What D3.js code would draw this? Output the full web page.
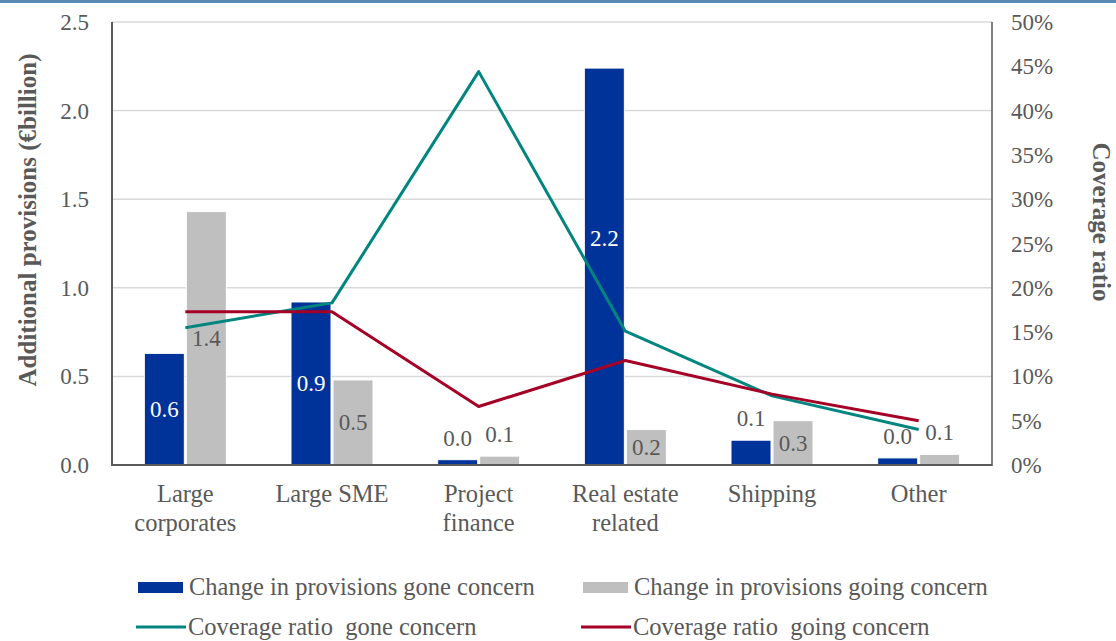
<!DOCTYPE html>
<html>
<head>
<meta charset="utf-8">
<script src="https://cdn.jsdelivr.net/npm/d3@7"></script>
<style>
  html, body { margin: 0; padding: 0; background: #fff; }
  svg { display: block; }
</style>
</head>
<body>
<svg id="chart" width="1116" height="641" font-family="'Liberation Serif', 'Times New Roman', 'DejaVu Serif', serif"></svg>
<script>
const categories = [["Large", "corporates"], ["Large SME"], ["Project", "finance"], ["Real estate", "related"], ["Shipping"], ["Other"]];
const goneConcern = [0.63, 0.92, 0.03, 2.24, 0.14, 0.04];
const goingConcern = [1.43, 0.48, 0.05, 0.20, 0.25, 0.06];
const coverageGone = [15.5, 18.3, 44.4, 15.1, 7.8, 4.0];
const coverageGoing = [17.3, 17.3, 6.6, 11.8, 8.0, 5.0];
const leftTicks = [0, 0.5, 1.0, 1.5, 2.0, 2.5];
const rightTicks = [0, 5, 10, 15, 20, 25, 30, 35, 40, 45, 50];

const svg = d3.select("#chart");
const W = 1116, H = 641;
const m = { left: 112, right: 992, top: 22, bottom: 465 };
const textColor = "#595959";
const FS = 23;
const FS_CAT = 24.5;
const FS_TITLE = 25;

// top band
svg.append("rect").attr("x", 0).attr("y", 0).attr("width", W).attr("height", 3).attr("fill", "#5b8bb5");

const x = d3.scaleBand().domain(d3.range(categories.length)).range([m.left, m.right]);
const yL = d3.scaleLinear().domain([0, 2.5]).range([m.bottom, m.top]);
const yR = d3.scaleLinear().domain([0, 50]).range([m.bottom, m.top]);
const barW = 40;

// gridlines
svg.append("g").selectAll("line").data(leftTicks.filter(d => d > 0)).join("line")
  .attr("x1", m.left).attr("x2", m.right)
  .attr("y1", d => yL(d)).attr("y2", d => yL(d))
  .attr("stroke", "#d9d9d9").attr("stroke-width", 1.5);

// bars
const cx = i => x(i) + x.bandwidth() / 2;
const gBars = svg.append("g");
gBars.selectAll("rect.gone").data(goneConcern).join("rect")
  .attr("x", (d, i) => cx(i) - barW - 1).attr("width", barW)
  .attr("y", d => yL(d)).attr("height", d => yL(0) - yL(d))
  .attr("fill", "#003399").attr("stroke", "#ffffff").attr("stroke-width", 1);
gBars.selectAll("rect.going").data(goingConcern).join("rect")
  .attr("x", (d, i) => cx(i) + 1).attr("width", barW)
  .attr("y", d => yL(d)).attr("height", d => yL(0) - yL(d))
  .attr("fill", "#bfbfbf").attr("stroke", "#ffffff").attr("stroke-width", 1);

// axes lines
svg.append("line").attr("x1", m.left).attr("x2", m.left).attr("y1", m.top).attr("y2", m.bottom + 1)
  .attr("stroke", "#595959").attr("stroke-width", 2);
svg.append("line").attr("x1", m.right).attr("x2", m.right).attr("y1", m.top).attr("y2", m.bottom + 1)
  .attr("stroke", "#595959").attr("stroke-width", 1.5);
svg.append("line").attr("x1", m.left - 1).attr("x2", m.right).attr("y1", m.bottom).attr("y2", m.bottom)
  .attr("stroke", "#595959").attr("stroke-width", 2);

// lines
const line = d3.line().x((d, i) => cx(i)).y(d => yR(d));
svg.append("path").datum(coverageGone).attr("d", line)
  .attr("fill", "none").attr("stroke", "#00857f").attr("stroke-width", 3).attr("stroke-linejoin", "round");
svg.append("path").datum(coverageGoing).attr("d", line)
  .attr("fill", "none").attr("stroke", "#a50026").attr("stroke-width", 3).attr("stroke-linejoin", "round");

// bar labels
const fmt = d3.format(".1f");
function labelY(v) {
  const top = yL(v), h = yL(0) - top;
  if (h < 30) return { y: top - 14, inside: false };
  return { y: Math.min(top + h / 2, top + 170) + 8, inside: true };
}
const gLab = svg.append("g").attr("font-size", FS).attr("text-anchor", "middle");
goneConcern.forEach((v, i) => {
  const p = labelY(v);
  gLab.append("text").attr("x", cx(i) - barW / 2 - 1).attr("y", p.y)
    .attr("fill", p.inside ? "#ffffff" : textColor).text(fmt(v));
});
goingConcern.forEach((v, i) => {
  const p = labelY(v);
  gLab.append("text").attr("x", cx(i) + barW / 2 + 1).attr("y", p.y)
    .attr("fill", textColor).text(fmt(v));
});

// left axis ticks
const gAxL = svg.append("g").attr("font-size", FS).attr("fill", textColor).attr("text-anchor", "end");
leftTicks.forEach(t => {
  gAxL.append("text").attr("x", 89).attr("y", yL(t) + 8).text(fmt(t));
});
// right axis ticks
const gAxR = svg.append("g").attr("font-size", FS).attr("fill", textColor).attr("text-anchor", "start");
rightTicks.forEach(t => {
  gAxR.append("text").attr("x", 1011).attr("y", yR(t) + 8).text(t + "%");
});

// category labels
const gCat = svg.append("g").attr("font-size", FS_CAT).attr("fill", textColor).attr("text-anchor", "middle");
categories.forEach((c, i) => {
  c.forEach((s, j) => {
    gCat.append("text").attr("x", cx(i)).attr("y", 502 + j * 29).text(s);
  });
});

// axis titles
svg.append("text").attr("transform", `translate(36,220) rotate(-90)`)
  .attr("text-anchor", "middle").attr("font-size", FS_TITLE).attr("font-weight", "bold").attr("fill", textColor)
  .text("Additional provisions (€billion)");
svg.append("text").attr("transform", `translate(1093,222) rotate(90)`)
  .attr("text-anchor", "middle").attr("font-size", FS_TITLE).attr("font-weight", "bold").attr("fill", textColor)
  .text("Coverage ratio");

// legend
const legend = [
  { type: "rect", color: "#003399", label: "Change in provisions gone concern", x: 138, y: 587 },
  { type: "rect", color: "#bfbfbf", label: "Change in provisions going concern", x: 583, y: 587 },
  { type: "line", color: "#00857f", label: "Coverage ratio  gone concern", x: 136, y: 627 },
  { type: "line", color: "#a50026", label: "Coverage ratio  going concern", x: 581, y: 627 }
];
const gLeg = svg.append("g");
legend.forEach(l => {
  if (l.type === "rect") {
    gLeg.append("rect").attr("x", l.x).attr("y", l.y - 5).attr("width", 45).attr("height", 11).attr("fill", l.color);
  } else {
    gLeg.append("line").attr("x1", l.x).attr("x2", l.x + 50).attr("y1", l.y).attr("y2", l.y)
      .attr("stroke", l.color).attr("stroke-width", 3);
  }
  gLeg.append("text").attr("x", l.x + (l.type === "rect" ? 51 : 52)).attr("y", l.y + 8)
    .attr("font-size", FS_CAT).attr("fill", textColor).style("white-space", "pre").attr("xml:space", "preserve")
    .text(l.label);
});
</script>
</body>
</html>
